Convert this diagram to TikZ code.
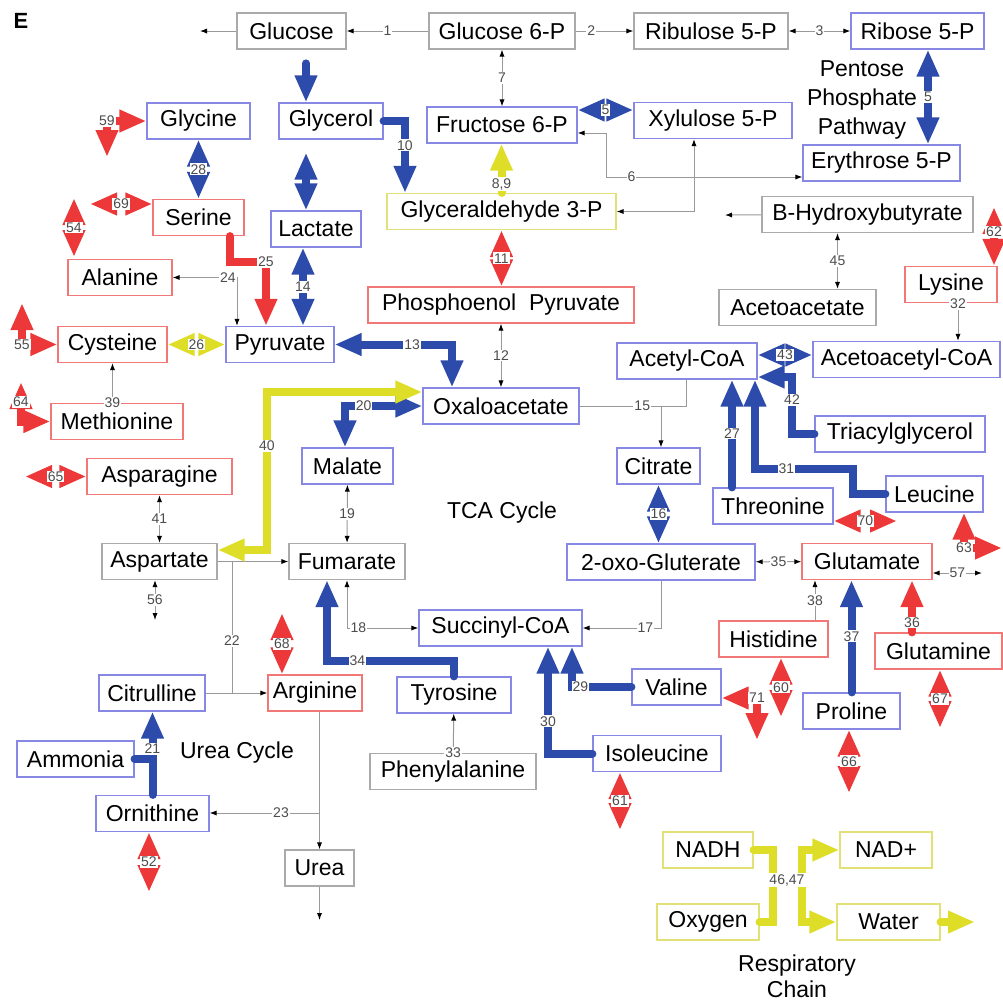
\documentclass[tikz,border=0pt]{standalone}
\usepackage{fontspec}
\setmainfont{Liberation Sans}
\usetikzlibrary{arrows.meta}

\definecolor{fluxblue}{RGB}{45,75,170}
\definecolor{fluxred}{RGB}{236,56,56}
\definecolor{fluxyellow}{RGB}{222,222,40}
\definecolor{edgeblue}{RGB}{135,135,228}
\definecolor{edgered}{RGB}{242,120,120}
\definecolor{edgegray}{RGB}{170,170,170}
\definecolor{edgeyellow}{RGB}{225,225,120}

\tikzset{
  box/.style={draw, rectangle, line width=0.6pt, minimum height=18pt, inner sep=0pt, fill=white},
  gbox/.style={box, draw=edgegray},
  bbox/.style={box, draw=edgeblue},
  rbox/.style={box, draw=edgered},
  ybox/.style={box, draw=edgeyellow},
  num/.style={font=\fontsize{7}{8}\selectfont, text=black!70, fill=white, inner sep=0.5pt},
  rxn/.style={draw=black!40, line width=0.5pt, >={Latex[length=3.5pt,width=2.6pt,color=black]}},
  flux/.style={line width=4pt, line cap=round, >={Triangle[width=10.5pt,length=13.5pt]}},
  bflux/.style={flux, draw=fluxblue},
  rflux/.style={flux, draw=fluxred},
  yflux/.style={flux, draw=fluxyellow}
}

\begin{document}
\begin{tikzpicture}[x=0.5pt, y=-0.5pt, font=\fontsize{11.5}{14.5}\selectfont]
  \useasboundingbox (0,0) rectangle (1003,1003);

  % metabolites
  \node[gbox, minimum width=54.5pt] (glc)    at (291.5,31)  {Glucose};
  \node[gbox, minimum width=73pt]   (glc6p)  at (502,31)    {Glucose 6-P};
  \node[gbox, minimum width=77pt]   (ru5p)   at (711,31)    {Ribulose 5-P};
  \node[bbox, minimum width=66.5pt] (r5p)    at (917.5,31)  {Ribose 5-P};
  \node[bbox, minimum width=51.5pt] (gly)    at (198.5,121) {Glycine};
  \node[bbox, minimum width=52pt]   (glyc)   at (331,121)   {Glycerol};
  \node[bbox, minimum width=75pt]   (f6p)    at (502,125)   {Fructose 6-P};
  \node[bbox, minimum width=79pt]   (xu5p)   at (713,120.5) {Xylulose 5-P};
  \node[bbox, minimum width=78.5pt] (e4p)    at (881.5,163) {Erythrose 5-P};
  \node[ybox, minimum width=114.5pt] (ga3p)  at (501.5,211.5) {Glyceraldehyde 3-P};
  \node[gbox, minimum width=105.5pt] (bhb)   at (867.5,214.5) {B-Hydroxybutyrate};
  \node[rbox, minimum width=45.5pt] (ser)    at (198.5,217.5) {Serine};
  \node[bbox, minimum width=45pt]   (lac)    at (316,229)   {Lactate};
  \node[rbox, minimum width=52pt]   (ala)    at (120,277.5) {Alanine};
  \node[rbox, minimum width=133pt]  (pep)    at (501,305)   {Phosphoenol\ \ Pyruvate};
  \node[gbox, minimum width=78.5pt] (aca)    at (797.5,307.5) {Acetoacetate};
  \node[rbox, minimum width=46pt]   (lys)    at (951,284.5) {Lysine};
  \node[rbox, minimum width=54.5pt] (cys)    at (112.5,344.5) {Cysteine};
  \node[bbox, minimum width=54pt]   (pyr)    at (280,344.5) {Pyruvate};
  \node[bbox, minimum width=70pt]   (acoa)   at (687,361)   {Acetyl-CoA};
  \node[bbox, minimum width=93.5pt] (acacoa) at (906.5,359.5) {Acetoacetyl-CoA};
  \node[rbox, minimum width=66pt]   (met)    at (117,421.5) {Methionine};
  \node[bbox, minimum width=78pt]   (oaa)    at (501,406)   {Oxaloacetate};
  \node[bbox, minimum width=85pt]   (tag)    at (900,434)   {Triacylglycerol};
  \node[bbox, minimum width=45.5pt] (mal)    at (347.5,466) {Malate};
  \node[bbox, minimum width=41.5pt] (cit)    at (658.5,466) {Citrate};
  \node[rbox, minimum width=72.5pt] (asn)    at (159.5,476.5) {Asparagine};
  \node[bbox, minimum width=60pt]   (thr)    at (773,506)   {Threonine};
  \node[bbox, minimum width=48.5pt] (leu)    at (934.5,494) {Leucine};
  \node[gbox, minimum width=57.5pt] (asp)    at (159.5,561.5) {Aspartate};
  \node[gbox, minimum width=58pt]   (fum)    at (347,561.5) {Fumarate};
  \node[bbox, minimum width=94pt]   (oxog)   at (661,562)   {2-oxo-Gluterate};
  \node[rbox, minimum width=65pt]   (glu)    at (867,561.5) {Glutamate};
  \node[bbox, minimum width=81.5pt] (succ)   at (500.5,628) {Succinyl-CoA};
  \node[rbox, minimum width=54.5pt] (his)    at (773.5,639) {Histidine};
  \node[rbox, minimum width=63.5pt] (gln)    at (938.5,651) {Glutamine};
  \node[bbox, minimum width=53pt]   (citr)   at (152,693)   {Citrulline};
  \node[rbox, minimum width=47pt]   (arg)    at (315,693)   {Arginine};
  \node[bbox, minimum width=57pt]   (tyr)    at (454,695)   {Tyrosine};
  \node[bbox, minimum width=44.5pt] (val)    at (676.5,687) {Valine};
  \node[bbox, minimum width=48.5pt] (pro)    at (851.5,711) {Proline};
  \node[bbox, minimum width=58.5pt] (amm)    at (75.5,759)  {Ammonia};
  \node[bbox, minimum width=64pt]   (ile)    at (657,753.5) {Isoleucine};
  \node[gbox, minimum width=83pt]   (phe)    at (453,771.5) {Phenylalanine};
  \node[bbox, minimum width=56.5pt] (orn)    at (152.5,813.5) {Ornithine};
  \node[gbox, minimum width=34.5pt] (urea)   at (319.5,868) {Urea};
  \node[ybox, minimum width=45pt]   (nadh)   at (708,850)   {NADH};
  \node[ybox, minimum width=46pt]   (nadp)   at (886,850)   {NAD+};
  \node[ybox, minimum width=51pt]   (oxy)    at (708,922)   {Oxygen};
  \node[ybox, minimum width=51.5pt] (wat)    at (888.5,922) {Water};

  % pathway titles
  \node[font=\fontsize{11}{12}\selectfont\bfseries] (panel) at (21,21) {E};
  \node[align=center] (ppp) at (862,100) {Pentose\\Phosphate\\Pathway};
  \node (tca) at (502,513) {TCA Cycle};
  \node (ureacyc) at (237,753) {Urea Cycle};
  \node[align=center, font=\fontsize{11.5}{13}\selectfont] (resp) at (797,976) {Respiratory\\Chain};

  % thin reactions
  \coordinate (glcout) at (200,31);
  \draw[rxn,->] (glc) -- (glcout);
  \draw[rxn,->] (glc6p) -- node[num]{1} (glc);
  \draw[rxn,->] (glc6p) -- node[num,pos=0.27]{2} (ru5p);
  \draw[rxn,<->] (ru5p) -- node[num]{3} (r5p);
  \draw[rxn,<->] (glc6p) -- node[num]{7} (f6p);
  \coordinate (f6pin) at ([yshift=-4pt]f6p.east);
  \coordinate (k6) at (606,177);
  \draw[rxn,<->] (f6pin) -| (k6) -- node[num,pos=0.13]{6} (e4p.west |- k6);
  \coordinate (xu5pin) at ([xshift=-9.5pt]xu5p.south);
  \draw[rxn,<->] (ga3p.east) -| (xu5pin);
  \coordinate (bhbout) at (725,215);
  \draw[rxn,->] (bhb) -- (bhbout);
  \coordinate (bhb45) at ([xshift=-15pt]bhb.south);
  \draw[rxn,<->] (bhb45) -- node[num]{45} (bhb45 |- aca.north);
  \coordinate (lys32) at ([xshift=3.5pt]lys.south);
  \draw[rxn,->] (lys32) -- node[num,pos=0.02]{32} (lys32 |- acacoa.north);
  \draw[rxn,<->] (pep) -- node[num]{12} (oaa);
  \coordinate (j15) at (661,406);
  \draw[rxn] (oaa) -- node[num,pos=0.77]{15} (j15);
  \coordinate (acoa15) at ([xshift=-0.5pt]acoa.south);
  \draw[rxn] (acoa15) |- (j15);
  \draw[rxn,->] (j15) -- (cit.north -| j15);
  \draw[rxn,<->] (mal) -- node[num]{19} (fum);
  \draw[rxn,<->] (fum.south) |- node[num,pos=0.58]{18} (succ.west);
  \draw[rxn,->] (oxog.south) |- node[num,pos=0.6]{17} (succ.east);
  \draw[rxn,<->] (oxog) -- node[num]{35} (glu);
  \coordinate (glu57) at (982,573);
  \draw[rxn,<->] (glu.east |- glu57) -- node[num]{57} (glu57);
  \coordinate (his38) at ([xshift=20.75pt]his.north);
  \draw[rxn,->] (his38) -- node[num]{38} (his38 |- glu.south);
  \coordinate (pyr24) at ([xshift=-21.5pt]pyr.north);
  \draw[rxn,<->] (ala.east) -| node[num,pos=0.43]{24} (pyr24);
  \draw[rxn,->] (met.north -| cys.south) -- node[num,pos=0]{39} (cys.south);
  \draw[rxn,<->] (asn) -- node[num]{41} (asp);
  \coordinate (asp56) at (155,620);
  \draw[rxn,<->] (asp.south -| asp56) -- node[num]{56} (asp56);
  \coordinate (j22a) at (232,562);
  \coordinate (j22b) at (232,693);
  \draw[rxn,->] (asp) -- (fum);
  \draw[rxn] (j22a) -- node[num,pos=0.6]{22} (j22b);
  \draw[rxn,->] (citr) -- (arg);
  \coordinate (j23) at (319.5,813);
  \draw[rxn,->] (arg.south -| urea.north) -- (urea.north);
  \draw[rxn,->] (j23) -- node[num,pos=0.35]{23} (orn.east |- j23);
  \coordinate (ureaout) at (319.5,920);
  \draw[rxn,->] (urea) -- (ureaout);
  \draw[rxn,->] (phe) -- node[num,pos=0]{33} (tyr);

  % blue fluxes
  \coordinate (glyctop) at ([xshift=-12.5pt]glyc.north);
  \draw[bflux,->] ([yshift=19.5pt]glyctop) -- (glyctop);
  \coordinate (ga3p10) at ([xshift=-48.25pt]ga3p.north);
  \draw[bflux,->] (glyc.east) -| node[num,pos=0.67]{10} (ga3p10);
  \draw[bflux,<->] (gly) -- node[num]{28} (ser);
  \coordinate (glycbot) at ([xshift=-12.5pt,yshift=-6.5pt]glyc.south);
  \draw[bflux,<->] (glycbot) -- (glycbot |- lac.north);
  \coordinate (lac14) at ([xshift=-6.5pt]lac.south);
  \draw[bflux,<->] (lac14) -- node[num]{14} (lac14 |- pyr.north);
  \coordinate (oaa13) at ([xshift=-24.5pt]oaa.north);
  \draw[bflux,<->] (pyr.east) -| node[num,pos=0.33]{13} (oaa13);
  \coordinate (mal20) at ([xshift=-1.25pt]mal.north);
  \draw[bflux,<->] (oaa.west) -| node[num,pos=0.38]{20} (mal20);
  \coordinate (f6p5) at ([yshift=7.5pt]f6p.east);
  \draw[bflux,<->] (f6p5) -- node[num]{5} (f6p5 -| xu5p.west);
  \coordinate (r5p5) at ([xshift=5.25pt]r5p.south);
  \draw[bflux,<->] (r5p5) -- node[num]{5} (r5p5 |- e4p.north);
  \draw[bflux,<->] (cit.south) -- node[num]{16} (cit.south |- oxog.north);
  \coordinate (acoa43) at ([yshift=3pt]acoa.east);
  \draw[bflux,<->] (acoa43) -- node[num]{43} (acoa43 -| acacoa.west);
  \coordinate (k42) at (792,377);
  \draw[bflux,->] (tag.west) -| node[num,pos=0.8]{42} (k42) -- ([yshift=-8pt]acoa.east);
  \coordinate (thr27) at ([xshift=-20.5pt]thr.north);
  \draw[bflux,->] (thr27) -- node[num]{27} (thr27 |- acoa.south);
  \coordinate (k31) at (853,469);
  \draw[bflux,->] (leu.west) -| (k31) -| node[num,pos=0.34]{31} ([xshift=34pt]acoa.south);
  \coordinate (k34) at (327,661);
  \draw[bflux,->] (tyr.north) |- node[num,pos=0.88]{34} (k34) -- (k34 |- fum.south);
  \draw[bflux,->] (val.west) -| node[num,pos=0.43]{29} ([xshift=35.75pt]succ.south);
  \draw[bflux,->] (ile.west) -| node[num,pos=0.65]{30} ([xshift=23.75pt]succ.south);
  \draw[bflux,->] (pro.north) -- node[num]{37} (pro.north |- glu.south);
  \draw[bflux] (amm.east) -- (amm.east -| orn.north);
  \draw[bflux,->] (orn.north) -- node[num,pos=0.55]{21} (orn.north |- citr.south);

  % red fluxes
  \coordinate (ser25) at ([xshift=15.75pt]ser.south);
  \coordinate (k25) at (266,262);
  \draw[rflux,->] (ser25) |- (k25) -- node[num,pos=0]{25} ([xshift=-7pt]pyr.north);
  \draw[rflux,<->] (ga3p.south) -- node[num]{11} (ga3p.south |- pep.north);
  \coordinate (k59) at (107,121);
  \coordinate (e59) at (107,157);
  \draw[rflux,<->] (gly.west) -- (k59) node[num]{59} -- (e59);
  \coordinate (e69) at (90,204);
  \draw[rflux,<->] (e69) -- node[num]{69} (e69 -| ser.west);
  \coordinate (a54) at (74,198);
  \coordinate (b54) at (74,257);
  \draw[rflux,<->] (a54) -- node[num]{54} (b54);
  \coordinate (k55) at (22,344.5);
  \coordinate (e55) at (22,303);
  \draw[rflux,<->] (cys.west) -- (k55) node[num]{55} -- (e55);
  \coordinate (k64) at (21,421.5);
  \coordinate (e64) at (21,382);
  \draw[rflux,<->] (met.west) -- (k64) -- node[num]{64} (e64);
  \coordinate (e65) at (25,476.5);
  \draw[rflux,<->] (e65) -- node[num]{65} (asn.west);
  \coordinate (e68) at (282,613);
  \draw[rflux,<->] (e68) -- node[num]{68} (e68 |- arg.north);
  \foreach \src/\xx/\yy/\lbl in {orn/149/892/52, ile/620/830/61, pro/849/793/66, his/781/717/60, gln/940/728/67} {
    \coordinate (e\lbl) at (\xx,\yy);
    \draw[rflux,<->] (\src.south -| e\lbl) -- node[num]{\lbl} (e\lbl);
  }
  \coordinate (k71) at (757,698);
  \coordinate (e71) at (757,740);
  \draw[rflux,<->] (val.east |- k71) -- (k71) node[num]{71} -- (e71);
  \coordinate (e70) at (897,521);
  \draw[rflux,<->] (thr.east |- e70) -- node[num]{70} (e70);
  \coordinate (k63) at (964,548);
  \coordinate (e63) at (1002,548);
  \draw[rflux,<->] (leu.south -| k63) -- (k63) node[num]{63} -- (e63);
  \coordinate (gln36) at ([xshift=-13.25pt]gln.north);
  \draw[rflux,->] (gln36) -- node[num,pos=0.19]{36} (gln36 |- glu.south);
  \coordinate (e62) at (994,207);
  \draw[rflux,<->] (e62) -- node[num,pos=0.42]{62} (e62 |- lys.north);

  % yellow fluxes
  \draw[yflux,->] (ga3p.north) -- node[num,pos=0.18]{8,9} (ga3p.north |- f6p.south);
  \draw[yflux,<->] (cys) -- node[num]{26} (pyr);
  \coordinate (asp40) at ([yshift=5.75pt]asp.east);
  \coordinate (k40) at (267,392);
  \draw[yflux,<->] (asp40) -| node[num,pos=0.83]{40} (k40) -- ([yshift=7pt]oaa.west);
  \coordinate (r1) at (773,850);
  \coordinate (r3) at (802,850);
  \draw[yflux] (nadh.east) -- (nadh.east -| r1) -- (oxy.east -| r1) -- (oxy.east);
  \draw[yflux,->] (wat.west -| r3) |- (nadp.west);
  \draw[yflux,->] (nadp.west -| r3) |- (wat.west);
  \node[num] (lbl4647) at (787,880) {46,47};
  \coordinate (watout) at (975,922);
  \draw[yflux,->] (wat.east) -- (watout);
\end{tikzpicture}
\end{document}
